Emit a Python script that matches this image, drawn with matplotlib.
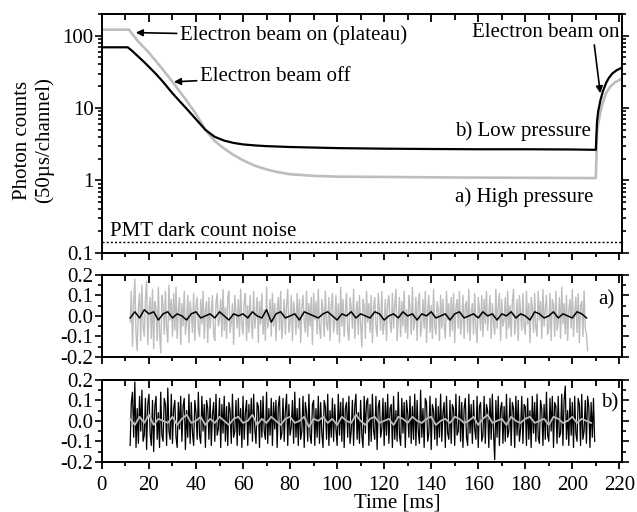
import numpy as np
import matplotlib
matplotlib.use("Agg")
import matplotlib.pyplot as plt
from matplotlib.ticker import MultipleLocator, LogLocator, FixedLocator, FixedFormatter, NullFormatter

plt.rcParams['font.family'] = ['Liberation Serif', 'DejaVu Serif']
plt.rcParams['font.size'] = 15

GRAY = '#bdbdbd'

# top panel: photon counts vs time (ms)
t_low = [0, 11, 13, 15, 18, 20, 23, 26, 30, 33, 36, 40, 44, 48, 52, 56, 60, 65, 70, 80, 90,
         100, 120, 140, 160, 180, 200, 210, 210.5, 211, 212, 213, 214.3, 215.5, 217, 219, 221]
c_low = [69, 69, 61, 53, 43, 37, 29.5, 23, 16, 12.5, 9.8, 7.0, 5.0, 4.0, 3.55, 3.3, 3.15, 3.05, 2.98, 2.9, 2.85,
         2.8, 2.75, 2.72, 2.7, 2.7, 2.68, 2.65, 6.5, 9, 13, 17, 22, 26, 30, 33.5, 36]

t_high = [0, 11.5, 15, 20, 25, 30, 35, 40, 44, 48, 52, 56, 60, 65, 70, 75, 80, 90, 100, 120,
          150, 180, 210, 210.5, 211, 212, 213, 214.3, 216, 218, 221]
c_high = [121, 121, 86, 58, 37, 23, 14, 8.3, 5.0, 3.5, 2.75, 2.25, 1.9, 1.6, 1.42, 1.3, 1.22, 1.16, 1.13, 1.12,
          1.1, 1.09, 1.08, 4.5, 6, 9, 12, 16, 19.5, 22.5, 25.5]

dark_noise = 0.142

# residuals a) high pressure (hundredths), 0.5 ms steps from 12 ms
res_a_gray = [
    -3, 12, -15, 6, 18, -9, -17, 4, 11, -12, 15, -5, -10, 8, 17, -14, 2, 9, -11, 13,
    -16, 7, 3, -12, 14, -8, -18, 10, 5, -9, 12, -6, -13, 15, -2, 8, -10, 11, -7, 14,
    -11, 3, 9, -14, 6, -5, 12, -9, -3, 10, -13, 7, 1, -8, 11, -12, 5, 9, -6, -10,
    8, -4, 12, -11, 3, 7, -13, 9, -6, 2, 10, -9, -12, 6, 11, -5, -2, 8, -10, 13,
    -7, 4, -11, 9, 12, -8, -3, 6, -14, 10, 2, -6, 8, -10, 13, -4, -9, 7, 11, -12,
    5, -8, 10, -3, -11, 12, -6, 1, 9, -13, 7, -4, 11, -9, 3, -12, 14, -6, -2, 8,
    -10, 11, -5, 6, -12, 3, 9, -7, 12, -11, -2, 8, -9, 5, 13, -8, -4, 10, -12, 7,
    2, -9, 11, -6, 8, -13, 4, 10, -3, -8, 12, -10, 6, -5, 9, -14, 11, -2, 7, -9,
    13, -6, -11, 8, 3, -10, 12, -4, -7, 9, -12, 5, 11, -8, -3, 10, -9, 6, -13, 14,
    -5, 8, -10, 2, 11, -7, -12, 9, 4, -6, 13, -11, 1, 7, -9, 10, -4, -15, 8, 5,
    -11, 12, -3, 6, -8, 10, -13, 4, 9, -5, -10, 11, 2, -7, 12, -9, -4, 8, -12, 6,
    10, -3, -8, 11, -6, 5, 13, -12, -2, 9, -10, 7, -5, 12, -8, 3, -11, 10, 4, -9,
    14, -7, -3, 9, -12, 6, 11, -10, -4, 8, -6, 12, -13, 2, 10, -8, 5, -11, 13, -5,
    -9, 7, 3, -12, 10, -6, 8, -4, -11, 12, -2, 6, -10, 9, -7, 11, -13, 4, 8, -6,
    12, -9, -3, 10, -11, 5, 7, -8, 13, -12, 2, 6, -9, 11, -5, -13, 9, 3, -7, 10,
    -10, 8, -4, 12, -7, 1, 10, -11, 6, -3, -9, 13, -6, 4, 11, -12, 8, -5, -2, 9,
    -11, 12, -6, 5, -10, 7, 13, -9, -3, 8, -12, 10, 2, -7, 11, -5, -9, 12, -4, 6,
    -13, 9, 4, -8, 11, -6, -10, 12, -2, 7, -11, 13, -5, 3, 10, -9, -6, 11, -12, 8,
    5, -10, 12, -7, -3, 9, -11, 14, -4, 6, -9, 10, -12, 3, 8, -6, 13, -10, 2, 9,
    -8, 11, -13, 5, 7, -10, 12, -6, -9, -17,
]
# smoothed, 2 ms steps from 12 ms
res_a_black = [
    -1, 2, -1, 3, 1, 2, -2, 1, 2, -1,
    1, 0, -2, 1, 2, -1, 0, 1, -1, 2,
    0, -2, 1, 0, 1, -1, 2, 0, -1, 3,
    -3, 1, 2, -1, 0, 1, -2, 2, 1, 0,
    -1, 1, 2, 0, -2, 1, 0, 2, -1, 1,
    0, -1, 2, 1, -2, 0, 1, -1, 2, 0,
    1, -2, 1, 0, 2, -1, 0, 1, -2, 1,
    2, -1, 0, 1, -1, 2, 0, 1, -2, 1,
    0, 2, -1, 1, 0, -2, 2, 1, -1, 0,
    2, -1, 1, 0, -1, 2, 1, -1,
]

# residuals b) low pressure (hundredths), 0.5 ms steps from 12 ms
res_b_black = [
    -12, 9, 14, -8, 19, -13, 6, -11, 12, -5, 15, -10, -7, 11, -14, 8, 13, -6, -12, 10,
    -15, 7, 12, -9, 4, -13, 14, -7, -10, 11, 8, -12, 16, -5, -9, 13, -11, 6, 10, -8,
    -13, 9, -4, 12, -10, 7, 11, -14, 5, -8, 13, -11, 9, -6, -12, 10, 4, -9, 14, -7,
    -11, 12, -5, 8, -13, 10, 6, -9, 11, -12, 3, 9, -10, 13, -7, -4, 11, -13, 8, -6,
    12, -10, 7, -12, 9, 5, -11, 13, -8, -5, 10, -12, 11, -7, 6, -13, 12, -9, 4, 10,
    -12, 8, -6, 11, -10, 13, -4, -11, 9, 7, -13, 10, -8, 12, -5, -9, 14, -11, 6, -7,
    11, -12, 9, -4, 10, -13, 7, 12, -9, -6, 11, -10, 5, 13, -12, 8, -7, -3, 10, -11,
    14, -8, 6, -12, 11, -9, -5, 12, -13, 9, 4, -10, 13, -7, -11, 8, 10, -12, 6, -8,
    12, -11, 9, -6, -13, 10, 7, -9, 13, -12, 5, -8, 11, -10, 8, -4, -12, 13, -7, 9,
    -10, 11, -13, 6, 9, -8, 12, -11, -5, 10, -12, 7, 13, -9, 4, -11, 10, -7, -13, 12,
    -6, 9, 11, -12, 8, -10, 13, -5, -9, 12, -14, 7, 10, -8, -4, 11, -12, 9, -7, 13,
    -11, 6, 8, -13, 12, -9, 5, -10, 14, -7, -12, 11, -6, 9, -13, 10, 4, -8, 12, -11,
    7, -9, 13, -12, 10, -5, -11, 15, -8, 6, -13, 11, 9, -10, -6, 12, -14, 8, 5, -9,
    11, -12, 7, -8, 13, -10, 4, 9, -13, 12, -6, -9, 10, -11, 8, 6, -12, 13, -7, -5,
    12, -10, 9, -13, 6, 11, -8, -12, 13, -6, 8, -11, 10, -4, -9, 12, -13, 7, 9, -10,
    -7, 12, -11, 8, 5, -13, 11, -9, 13, -6, -19, 10, -8, 12, -12, 6, 9, -11, 7, -10,
    13, -8, -5, 11, -12, 9, 6, -13, 12, -7, 10, -10, -4, 12, -11, 8, 7, -12, 11, -9,
    5, -13, 12, -6, 9, -10, 13, -8, -11, 10, 6, -12, 8, -9, 14, -7, -10, 11, -5, 12,
    -13, 9, 7, -11, 12, -8, -6, 13, -12, 10, 17, -9, 5, -12, 11, -7, 9, -13, 12, -6,
    -10, 11, 8, -12, 13, -9, -5, 10, -11, 12, 7, -13, 9, -8, 11, -10,
]
res_b_gray = [
    1, -2, 2, -1, 3, -2, 1, 0, -1, 2,
    -2, 1, 3, -1, 0, 2, -2, 1, -1, 2,
    0, -2, 1, 2, -1, 0, 3, -2, 1, -1,
    2, 0, -2, 1, 2, -1, 0, 2, -3, 1,
    0, 2, -1, 1, -2, 2, 0, -1, 3, 0,
    -2, 1, 2, -1, 0, 1, -2, 2, 1, -1,
    2, 0, -1, 1, 2, -2, 0, 1, -1, 2,
    1, -1, 0, 2, -2, 1, 3, -1, 0, 1,
    -2, 2, 0, -1, 1, 2, -1, 0, 1, -2,
    2, 1, -1, 0, 2, -1, 1, 0, -1,
]

t_a_gray = 12 + 0.5 * np.arange(len(res_a_gray))
t_a_black = 12 + 2 * np.arange(len(res_a_black))
t_b_black = 12 + 0.5 * np.arange(len(res_b_black))
t_b_gray = 12 + 2 * np.arange(len(res_b_gray))

fig = plt.figure(figsize=(6.37, 5.12), dpi=100)
ax1 = fig.add_axes([0.160, 0.506, 0.816, 0.467])
ax2 = fig.add_axes([0.160, 0.303, 0.816, 0.160])
ax3 = fig.add_axes([0.160, 0.098, 0.816, 0.160])


def style(ax):
    for s in ax.spines.values():
        s.set_linewidth(1.4)
    ax.set_xlim(0, 221)
    ax.xaxis.set_major_locator(MultipleLocator(20))
    ax.xaxis.set_minor_locator(MultipleLocator(10))
    ax.tick_params(axis='x', which='both', direction='out', width=1.3, top=False, pad=5)
    ax.tick_params(axis='x', which='major', length=5)
    ax.tick_params(axis='x', which='minor', length=3)
    ax.tick_params(axis='y', which='both', direction='out', left=True, right=True, width=1.2)
    ax.tick_params(axis='y', which='major', length=5, pad=1)
    ax.tick_params(axis='y', which='minor', length=3)
    sec = ax.secondary_xaxis('top')
    sec.xaxis.set_major_locator(MultipleLocator(20))
    sec.xaxis.set_minor_locator(MultipleLocator(10))
    sec.tick_params(axis='x', which='both', direction='in', labeltop=False, width=1.3)
    sec.tick_params(axis='x', which='major', length=6)
    sec.tick_params(axis='x', which='minor', length=4)
    sec.spines['top'].set_linewidth(1.4)


# top panel
ax1.plot(t_high, c_high, color=GRAY, lw=1.9)
ax1.plot(t_low, c_low, color='black', lw=1.6)
ax1.axhline(dark_noise, color='black', lw=1.0, ls=(0, (1.5, 1.5)))
ax1.set_yscale('log')
ax1.set_ylim(0.1, 200)
style(ax1)
ax1.yaxis.set_major_locator(FixedLocator([0.1, 1, 10, 100]))
ax1.yaxis.set_major_formatter(FixedFormatter(['0.1', '1', '10', '100']))
ax1.yaxis.set_minor_locator(LogLocator(base=10, subs=np.arange(2, 10)))
ax1.yaxis.set_minor_formatter(NullFormatter())
ax1.tick_params(axis='x', labelbottom=False)

arrow = dict(arrowstyle='-|>', color='black', lw=1.2, mutation_scale=10, shrinkA=0, shrinkB=0)
ax1.annotate('Electron beam on (plateau)', xy=(14.4, 110), xytext=(33, 100),
             va='center', ha='left', arrowprops=arrow)
ax1.annotate('Electron beam off', xy=(30.6, 23), xytext=(41.5, 27),
             va='center', ha='left', arrowprops=arrow)
ax1.annotate('Electron beam on', xy=(211.9, 16), xytext=(188.5, 110),
             va='center', ha='center', arrowprops=dict(arrow, relpos=(0.83, 0.0)))
ax1.text(150.3, 4.8, 'b) Low pressure', va='center', ha='left')
ax1.text(150.3, 0.58, 'a) High pressure', va='center', ha='left')
ax1.text(3.4, 0.2, 'PMT dark count noise', va='center', ha='left')

# residual a
ax2.plot(t_a_gray, np.array(res_a_gray) / 100, color=GRAY, lw=1.0)
ax2.plot(t_a_black, np.array(res_a_black) / 100, color='black', lw=1.1)
ax2.set_ylim(-0.2, 0.2)
style(ax2)
ax2.yaxis.set_minor_locator(MultipleLocator(0.05))
ax2.set_yticks([-0.2, -0.1, 0.0, 0.1, 0.2])
ax2.set_yticklabels(['-0.2', '-0.1', '0.0', '0.1', '0.2'])
ax2.tick_params(axis='x', labelbottom=False)
ax2.text(211, 0.08, 'a)', va='center', ha='left')

# residual b
ax3.plot(t_b_black, np.array(res_b_black) / 100, color='black', lw=0.9)
ax3.plot(t_b_gray, np.array(res_b_gray) / 100, color=GRAY, lw=1.3)
ax3.set_ylim(-0.2, 0.2)
style(ax3)
ax3.yaxis.set_minor_locator(MultipleLocator(0.05))
ax3.set_yticks([-0.2, -0.1, 0.0, 0.1, 0.2])
ax3.set_yticklabels(['-0.2', '-0.1', '0.0', '0.1', '0.2'])
ax3.text(212.3, 0.088, 'b)', va='center', ha='left')

fig.text(0.623, 0.018, 'Time [ms]', ha='center', va='center')
fig.text(0.053, 0.726, 'Photon counts\n(50\u00b5s/channel)', ha='center', va='center',
         rotation=90, linespacing=1.2)

fig.savefig('out.png', dpi=100)
